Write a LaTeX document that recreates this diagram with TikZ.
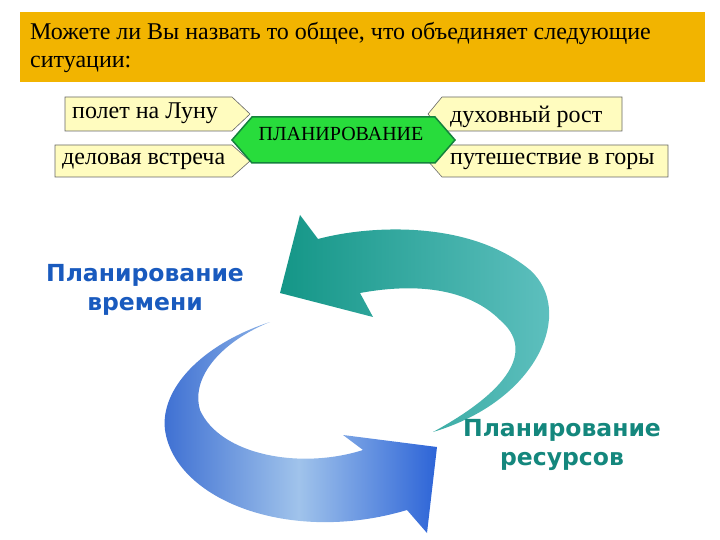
\documentclass[tikz,border=0pt]{standalone}
\usepackage{fontspec}
\setmainfont{Liberation Serif}
\newfontfamily\lbl{DejaVu Sans}
\begin{document}
\begin{tikzpicture}[x=1pt,y=-1pt,
  ybox/.style={draw=black!60,fill=yellow!25!white,line width=0.6pt},
  btxt/.style={font=\fontsize{24}{26}\selectfont,anchor=west,inner sep=0},
  ltxt/.style={font=\lbl\bfseries\fontsize{23.5}{29}\selectfont,align=center}]
\useasboundingbox (0,0) rectangle (720,540);
\fill[color={rgb,255:red,242;green,180;blue,0}] (20,12) rectangle (705,82);
\node[anchor=north west,align=left,font=\fontsize{24}{28.5}\selectfont,inner sep=0] (title) at (30,22)
 {Можете ли Вы назвать то общее, что объединяет следующие\\ситуации:};
\draw[ybox] (65,97) -- (232,97) -- (250,114) -- (232,131) -- (65,131) -- cycle;
\draw[ybox] (55,145) -- (232,145) -- (250,161) -- (232,177) -- (55,177) -- cycle;
\draw[ybox] (622,97) -- (442,97) -- (428,114) -- (442,131) -- (622,131) -- cycle;
\draw[ybox] (668,145) -- (442,145) -- (428,161) -- (442,177) -- (668,177) -- cycle;
\node[btxt] (a) at (72,113) {полет на Луну};
\node[btxt] (b) at (62,161) {деловая встреча};
\node[btxt] (c) at (450,117) {духовный рост};
\node[btxt] (d) at (450,161) {путешествие в горы};
\draw[fill={rgb,255:red,40;green,220;blue,60},draw={rgb,255:red,20;green,130;blue,60},line width=1.5pt]
 (232,140) -- (252,117) -- (435,117) -- (455,140) -- (435,163) -- (252,163) -- cycle;
\node[font=\fontsize{20}{22}\selectfont] (p) at (341,134) {ПЛАНИРОВАНИЕ};
\shade[left color={rgb,255:red,20;green,150;blue,135},right color={rgb,255:red,100;green,195;blue,195}]
 (280,293) -- (300,215) -- (318,239)
 .. controls (370,225) and (470,220) .. (530,270)
 .. controls (575,310) and (540,400) .. (433,432)
 .. controls (510,390) and (535,350) .. (500,320)
 .. controls (470,290) and (420,282) .. (360,293)
 -- (373,317) -- cycle;
\shade[left color={rgb,255:red,60;green,110;blue,210},right color={rgb,255:red,45;green,100;blue,215},middle color={rgb,255:red,160;green,195;blue,235}]
 (270,322) .. controls (200,345) and (160,390) .. (165,430)
 .. controls (175,500) and (290,545) .. (407,510)
 -- (427,533) -- (437,447) -- (343,435) -- (363,450)
 .. controls (300,470) and (220,455) .. (200,410)
 .. controls (190,375) and (225,340) .. (270,322) -- cycle;
\node[ltxt,text={rgb,255:red,25;green,90;blue,190}] (t1) at (145,290) {Планирование\\времени};
\node[ltxt,text={rgb,255:red,20;green,135;blue,125}] (t2) at (562,445) {Планирование\\ресурсов};
\end{tikzpicture}
\end{document}
